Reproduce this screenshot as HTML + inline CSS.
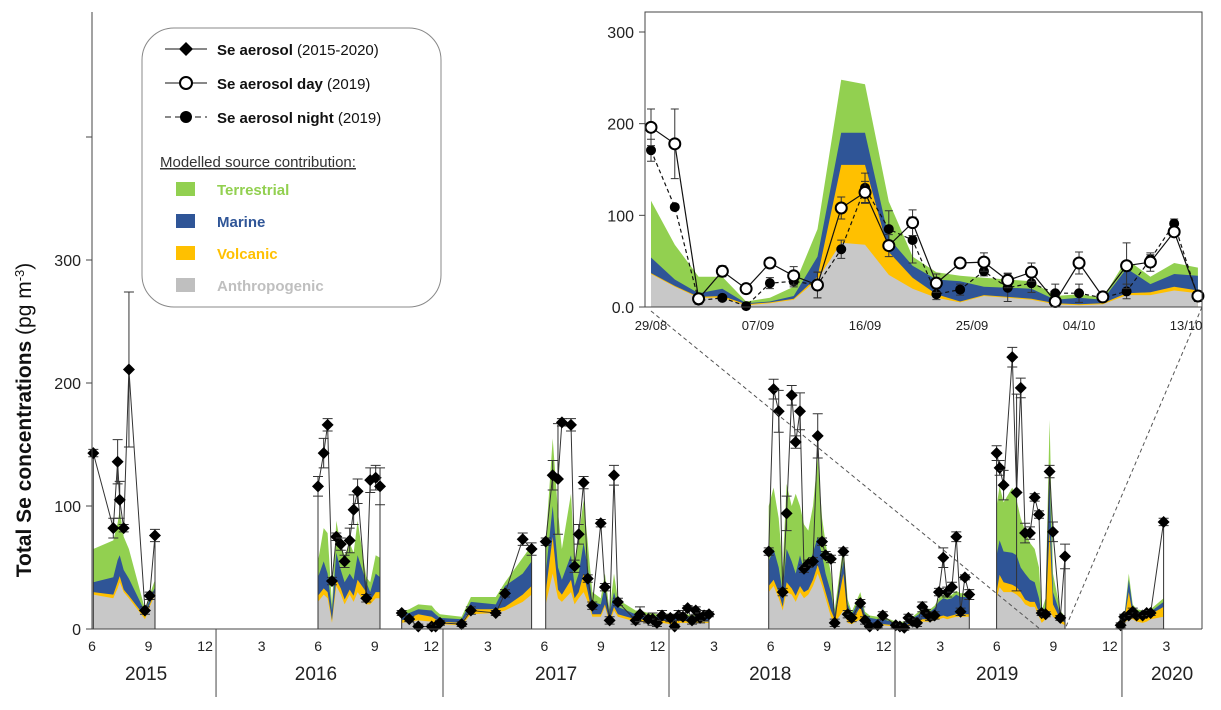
<!DOCTYPE html>
<html><head><meta charset="utf-8">
<style>
html,body{margin:0;padding:0;background:#fff;}
svg{display:block;font-family:"Liberation Sans",Arial,sans-serif;}
</style></head>
<body>
<svg id="chart" width="1221" height="710" viewBox="0 0 1221 710" xmlns="http://www.w3.org/2000/svg">
  <g id="main-areas"></g>
  <g id="main-lines"></g>
  <g id="axes">
    <line x1="92" y1="12" x2="92" y2="629" stroke="#444" stroke-width="1"/>
    <line x1="92" y1="629" x2="1202" y2="629" stroke="#444" stroke-width="1"/>
    <line x1="1202" y1="12" x2="1202" y2="629" stroke="#444" stroke-width="1"/>
  </g>
  <g id="yticks"></g>
  <g id="xticks"></g>
  <text transform="translate(31,420) rotate(-90)" text-anchor="middle" font-size="21" fill="#111"><tspan font-weight="bold">Total Se concentrations</tspan> (pg m<tspan baseline-shift="super" font-size="13">-3</tspan>)</text>
  <line x1="651" y1="311" x2="1040" y2="629" stroke="#555" stroke-dasharray="4,3"/>
  <line x1="1202" y1="307" x2="1065" y2="629" stroke="#555" stroke-dasharray="4,3"/>
  <g id="inset">
    <rect x="645" y="12" width="557" height="295" fill="#fff" stroke="none"/>
    <g id="inset-areas"></g>
    <g id="inset-lines"></g>
    <rect x="645" y="12" width="557" height="295" fill="none" stroke="#444" stroke-width="1"/>
    <g id="inset-ticks"></g>
  </g>
  <g id="legend">
    <rect x="142" y="28" width="299" height="279" rx="32" ry="32" fill="#fff" stroke="#888" stroke-width="1"/>
    <g>
      <line x1="165" y1="49" x2="207" y2="49" stroke="#111"/>
      <path d="M186,42 L193,49 L186,56 L179,49 Z" fill="#000"/>
      <text x="217" y="55" font-size="15" fill="#111"><tspan font-weight="bold">Se aerosol</tspan> (2015-2020)</text>
    </g>
    <g>
      <line x1="165" y1="83" x2="207" y2="83" stroke="#111"/>
      <circle cx="186" cy="83" r="6" fill="#fff" stroke="#000" stroke-width="2"/>
      <text x="217" y="89" font-size="15" fill="#111"><tspan font-weight="bold">Se aerosol day</tspan> (2019)</text>
    </g>
    <g>
      <line x1="165" y1="117" x2="207" y2="117" stroke="#111" stroke-dasharray="6,4"/>
      <circle cx="186" cy="117" r="6" fill="#000"/>
      <text x="217" y="123" font-size="15" fill="#111"><tspan font-weight="bold">Se aerosol night</tspan> (2019)</text>
    </g>
    <text x="160" y="167" font-size="15" fill="#333" text-decoration="underline">Modelled source contribution:</text>
    <g><rect x="176" y="182" width="19" height="14" fill="#92d050"/><text x="217" y="195" font-size="15" font-weight="bold" fill="#92d050">Terrestrial</text></g>
    <g><rect x="176" y="214" width="19" height="14" fill="#2f5597"/><text x="217" y="227" font-size="15" font-weight="bold" fill="#2f5597">Marine</text></g>
    <g><rect x="176" y="246" width="19" height="14" fill="#ffc000"/><text x="217" y="259" font-size="15" font-weight="bold" fill="#ffc000">Volcanic</text></g>
    <g><rect x="176" y="278" width="19" height="14" fill="#bfbfbf"/><text x="217" y="291" font-size="15" font-weight="bold" fill="#bfbfbf">Anthropogenic</text></g>
  </g>
</svg>
<script>
// ---- main chart data (months since June 2015) ----
const segStarts = [0, 9, 23, 35, 66, 108, 124];
const months = [0.07,1.13,1.36,1.47,1.68,1.96,2.81,3.06,3.34,
11.99,12.29,12.5,12.73,12.96,13.2,13.4,13.67,13.88,14.09,14.55,14.76,15.05,15.28,
16.43,16.83,17.31,18.02,18.23,18.46,19.61,20.1,21.42,21.91,22.85,23.32,
24.07,24.44,24.72,24.93,25.41,25.6,25.82,26.08,26.3,26.54,26.99,27.21,27.46,27.69,27.9,28.84,29.07,29.51,29.74,29.97,30.24,30.68,30.91,31.12,31.35,31.6,31.83,32.03,32.26,32.47,32.73,
35.9,36.16,36.43,36.64,36.85,37.12,37.33,37.56,37.77,38.0,38.25,38.5,38.73,38.92,39.2,39.4,39.86,40.09,40.3,40.76,41.01,41.26,41.68,41.95,42.64,42.86,43.09,43.31,43.54,43.77,44.05,44.24,44.46,44.7,44.93,45.16,45.37,45.62,45.85,46.08,46.31,46.54,
47.99,48.15,48.36,48.82,49.05,49.27,49.5,49.76,50.01,50.24,50.38,50.59,50.8,50.98,51.37,51.62,
54.57,54.76,55.0,55.21,55.42,55.74,55.95,56.16,56.85];
const seValues = [143,82,136,105,82,211,15,27,76,
116,143,166,39,75,69,55,72,97,112,25,121,123,116,
13,8,2,2,2,5,4,15,13,29,73,65,
71,125,122,168,166,51,77,119,41,19,86,34,7,125,22,7,12,8,8,5,11,9,2,11,10,17,7,15,9,11,12,
63,195,177,30,94,190,152,177,49,53,55,157,71,60,57,5,63,12,9,21,7,2,3,11,3,2,1,9,6,5,18,13,10,11,30,58,30,34,75,14,42,28,
143,131,117,221,111,196,78,78,107,93,13,12,128,79,9,59,
3,10,11,14,11,11,13,13,87];
const seErrors = [3,8,18,15,3,63,3,3,5,
8,12,5,3,3,5,5,10,12,10,3,10,10,15,
2,2,2,2,2,2,2,3,2,3,5,5,
3,12,45,3,5,5,8,5,3,3,3,3,3,8,3,3,6,3,5,3,4,3,2,4,3,2,3,3,4,4,2,
3,8,17,3,14,8,5,15,3,3,3,18,3,3,3,3,3,3,3,3,3,2,2,3,2,2,2,3,3,3,4,3,3,3,3,8,4,4,4,3,2,4,
6,6,12,8,80,8,8,5,3,3,2,2,5,8,2,10,
2,2,2,3,2,2,2,2,3];
const anthro = [28,25,33,38,30,25,8,18,28,
22,28,25,5,35,28,20,28,22,30,20,20,25,25,
5,6,7,6,5,4,3,12,13,15,22,28,
20,45,25,22,30,20,25,30,22,10,10,18,5,15,10,6,6,5,5,5,5,4,4,5,5,5,4,5,5,5,5,
30,35,25,15,30,28,22,30,25,28,35,45,35,25,10,5,15,5,4,8,3,3,3,3,2,2,2,3,4,5,6,6,6,7,8,9,8,9,10,10,10,10,
25,34,30,30,28,25,20,18,18,10,5,8,15,10,5,3,
3,5,8,8,6,5,6,8,10];
const volcanic = [2,3,5,5,2,2,2,2,2,
5,5,5,2,5,5,4,4,5,10,10,3,5,5,
2,3,5,4,3,2,2,4,3,3,6,7,
10,30,7,6,10,5,5,15,8,2,2,2,2,3,2,2,2,2,3,2,2,2,2,2,2,1,1,1,1,1,1,
5,5,5,3,8,5,5,5,5,4,5,7,5,5,5,3,30,5,2,10,2,1,1,1,1,1,1,1,1,1,2,2,2,2,2,2,2,2,2,2,2,2,
5,10,8,6,6,5,4,4,4,4,3,4,65,10,3,2,
1,2,22,4,3,3,3,4,8];
const marine = [8,14,18,17,16,14,4,4,4,
15,22,15,8,22,15,14,13,13,20,8,7,15,12,
5,4,4,5,4,3,3,6,4,17,17,20,
15,25,18,12,20,10,15,25,20,10,8,15,5,12,6,4,4,4,3,3,4,4,4,4,4,4,4,5,5,5,6,
20,25,20,12,27,22,18,25,18,18,22,23,20,15,15,4,10,10,6,7,7,5,4,4,2,2,2,3,4,5,6,6,6,8,12,14,14,14,16,14,14,13,
30,28,25,26,26,20,21,18,16,11,4,6,40,10,4,3,
1,2,10,6,5,6,5,2,4];
const terrestrial = [27,30,30,37,27,24,2,4,6,
13,27,33,5,26,20,22,25,22,28,4,8,15,16,
2,3,4,4,3,3,2,4,6,3,13,13,
25,55,45,25,50,20,30,35,20,8,5,10,3,15,6,3,3,2,2,2,2,2,2,2,2,2,2,2,2,2,1,
45,50,40,20,53,45,65,40,37,30,38,65,30,25,15,4,13,4,2,5,2,2,2,2,1,1,1,1,1,2,3,3,2,2,3,3,3,3,3,3,3,3,
40,44,40,53,45,40,35,30,27,25,3,7,50,15,3,2,
1,1,5,2,2,1,2,2,3];
const monthTickLabels = ["6","9","12","3","6","9","12","3","6","9","12","3","6","9","12","3","6","9","12","3"];
const yearLabels = ["2015","2016","2017","2018","2019","2020"];
const yearLabelMonths = [2.87,11.88,24.62,35.98,48.02,57.3];
const yearSepMonths = [6.58,18.62,30.61,42.6,54.64];
const yTickValues = [0,100,200,300];

// ---- inset data (days since 29/08/2019) ----
const insetDays = [0,2,4,6,8,10,12,14,16,18,20,22,24,26,28,30,32,34,36,38,40,42,44,46];
const dayValues = [196,178,9,39,20,48,34,24,108,125,67,92,26,48,49,29,38,6,48,11,45,49,82,12];
const dayErrors = [20,38,3,6,3,5,10,14,12,12,12,14,10,5,10,8,10,5,12,5,25,10,5,5];
const nightValues = [171,109,7,10,1,26,28,24,63,130,85,73,14,19,39,21,26,15,15,10,17,52,91,11];
const nightErrors = [12,3,4,3,2,6,6,14,10,16,20,25,6,6,5,15,10,10,10,4,8,5,5,5];
const insetAnthro = [36,22,10,10,2,4,8,30,70,68,35,20,10,5,12,10,8,3,2,3,13,13,18,15];
const insetVolcanic = [1,1,1,2,1,1,1,3,85,87,25,12,4,1,1,1,1,1,1,1,2,3,4,3];
const insetMarine = [17,7,4,8,1,1,3,22,35,35,15,13,16,22,9,10,11,4,7,4,27,9,14,16];
const insetTerrestrial = [62,38,18,13,2,4,10,30,58,53,40,10,8,6,10,9,8,4,4,2,10,8,12,9];
const insetTickLabels = ["0.0","100","200","300"];
const insetTickValues = [0,100,200,300];
const insetDateLabels = ["29/08","07/09","16/09","25/09","04/10","13/10"];
const insetDateDays = [0,9,18,27,36,45];

const NS="http://www.w3.org/2000/svg";
function mk(tag,attrs,parent){const e=document.createElementNS(NS,tag);for(const k in attrs)e.setAttribute(k,attrs[k]);parent.appendChild(e);return e;}
const xM=m=>92+m*18.85, yM=v=>629-v*1.23;
const xI=d=>651+d*11.89, yI=v=>307-v*0.9167;
const colors=["#c8c8c8","#ffc000","#2f5597","#92d050"];
const layerNames=["anthropogenic","volcanic","marine","terrestrial"];

// main areas
const gA=document.getElementById('main-areas');
const comps=[anthro,volcanic,marine,terrestrial];
for(let s=0;s<segStarts.length;s++){
  const a=segStarts[s], b=(s+1<segStarts.length?segStarts[s+1]:months.length)-1;
  for(let L=3;L>=0;L--){
    let pts=[];
    for(let i=a;i<=b;i++){let c=0;for(let k=0;k<=L;k++)c+=comps[k][i];pts.push(xM(months[i]).toFixed(1)+","+yM(c).toFixed(1));}
    pts.push(xM(months[b]).toFixed(1)+","+yM(0));pts.push(xM(months[a]).toFixed(1)+","+yM(0));
    const p=mk('polygon',{points:pts.join(" "),fill:colors[L]},gA);
    
    
  }
}
// main lines
const gL=document.getElementById('main-lines');
for(let s=0;s<segStarts.length;s++){
  const a=segStarts[s], b=(s+1<segStarts.length?segStarts[s+1]:months.length)-1;
  let d="M"+xM(months[a]).toFixed(1)+","+yM(0);
  for(let i=a;i<=b;i++)d+=" L"+xM(months[i]).toFixed(1)+","+yM(seValues[i]).toFixed(1);
  d+=" L"+xM(months[b]).toFixed(1)+","+yM(0);
  const p=mk('path',{d:d,fill:"none",stroke:"#333","stroke-width":1},gL);
  
  
}
for(let i=0;i<months.length;i++){
  const x=xM(months[i]), y=yM(seValues[i]), e=seErrors[i]*1.23;
  const eb=mk('path',{d:`M${x},${y-e} V${y+e} M${x-5},${y-e} H${x+5} M${x-5},${y+e} H${x+5}`,stroke:"#333","stroke-width":1,fill:"none"},gL);
  
  
  const dm=mk('path',{d:`M${x},${y-6} L${x+6},${y} L${x},${y+6} L${x-6},${y} Z`,fill:"#000"},gL);
  
  
}
// y ticks
const gY=document.getElementById('yticks');
yTickValues.forEach(v=>{
  const t=mk('line',{x1:86,x2:92,y1:yM(v),y2:yM(v),stroke:"#444"},gY);
  
  
  const l=mk('text',{x:81,y:yM(v)+6,"text-anchor":"end","font-size":16,fill:"#222"},gY);
  l.textContent=v;
  
  
});
mk('line',{x1:86,x2:92,y1:yM(400),y2:yM(400),stroke:"#444"},gY);
// x ticks
const gX=document.getElementById('xticks');
monthTickLabels.forEach((lab,i)=>{
  const t=mk('text',{x:xM(i*3),y:651,"text-anchor":"middle","font-size":14,fill:"#222"},gX);
  t.textContent=lab;
  
  
});
yearLabels.forEach((lab,i)=>{
  const t=mk('text',{x:xM(yearLabelMonths[i]),y:680,"text-anchor":"middle","font-size":19,fill:"#222"},gX);
  t.textContent=lab;
  
  
});
yearSepMonths.forEach(m=>{
  const l=mk('line',{x1:xM(m),x2:xM(m),y1:629,y2:697,stroke:"#444"},gX);
  
  
});
// inset areas
const gIA=document.getElementById('inset-areas');
const icomps=[insetAnthro,insetVolcanic,insetMarine,insetTerrestrial];
for(let L=3;L>=0;L--){
  let pts=[];
  for(let i=0;i<insetDays.length;i++){let c=0;for(let k=0;k<=L;k++)c+=icomps[k][i];pts.push(xI(insetDays[i]).toFixed(1)+","+yI(c).toFixed(1));}
  pts.push(xI(insetDays[insetDays.length-1])+","+yI(0));pts.push(xI(insetDays[0])+","+yI(0));
  const p=mk('polygon',{points:pts.join(" "),fill:colors[L]},gIA);
  
  
}
// inset lines
const gIL=document.getElementById('inset-lines');
function series(vals,errs,dash,name,open){
  let d="";
  vals.forEach((v,i)=>{d+=(i?" L":"M")+xI(insetDays[i]).toFixed(1)+","+yI(v).toFixed(1);});
  const p=mk('path',{d:d,fill:"none",stroke:"#111","stroke-width":1.2},gIL);
  if(dash)p.setAttribute('stroke-dasharray','4,3');
  
  
  vals.forEach((v,i)=>{
    const x=xI(insetDays[i]), y=yI(v), e=errs[i]*0.9167;
    const eb=mk('path',{d:`M${x},${y-e} V${y+e} M${x-4},${y-e} H${x+4} M${x-4},${y+e} H${x+4}`,stroke:"#333","stroke-width":1,fill:"none"},gIL);
    
    
  });
  vals.forEach((v,i)=>{
    const c=mk('circle',{cx:xI(insetDays[i]),cy:yI(v),r:open?5.5:4.5,fill:open?"#fff":"#000",stroke:"#000","stroke-width":open?2:1},gIL);
    
    
  });
}
series(nightValues,nightErrors,true,'night',false);
series(dayValues,dayErrors,false,'day',true);
// inset ticks
const gIT=document.getElementById('inset-ticks');
insetTickValues.forEach((v,i)=>{
  mk('line',{x1:639,x2:645,y1:yI(v),y2:yI(v),stroke:"#444"},gIT);
  const t=mk('text',{x:634,y:yI(v)+6,"text-anchor":"end","font-size":16,fill:"#222"},gIT);
  t.textContent=insetTickLabels[i];
  
  
});
insetDateLabels.forEach((lab,i)=>{
  const t=mk('text',{x:xI(insetDateDays[i]),y:330,"text-anchor":"middle","font-size":13,fill:"#222"},gIT);
  t.textContent=lab;
  
  
});
</script>
</body></html>
